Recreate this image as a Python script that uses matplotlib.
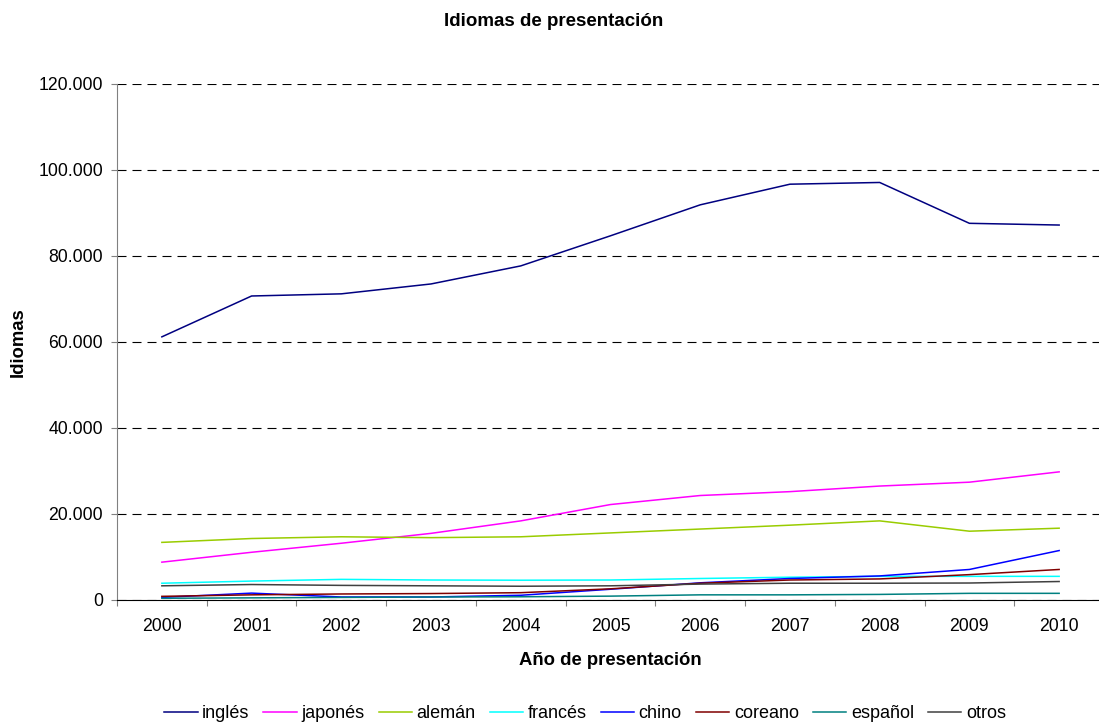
import numpy as np
import matplotlib.pyplot as plt
from matplotlib.ticker import FuncFormatter

plt.rcParams['font.family'] = ['Liberation Sans', 'DejaVu Sans']

# Datos
years = ['2000', '2001', '2002', '2003', '2004', '2005', '2006', '2007', '2008', '2009', '2010']
ingles = [61200, 70700, 71200, 73500, 77700, 84700, 91900, 96700, 97100, 87600, 87200]
japones = [8800, 11100, 13200, 15500, 18400, 22200, 24300, 25200, 26500, 27400, 29800]
aleman = [13400, 14300, 14700, 14500, 14700, 15600, 16500, 17400, 18400, 16000, 16700]
frances = [3900, 4400, 4800, 4650, 4600, 4650, 5000, 5300, 5500, 5500, 5500]
chino = [600, 1600, 700, 700, 1100, 2500, 4000, 5000, 5600, 7100, 11500]
coreano = [850, 1200, 1400, 1500, 1700, 2600, 3900, 4650, 4900, 5900, 7100]
espanol = [400, 500, 600, 700, 750, 900, 1200, 1200, 1300, 1550, 1550]
otros = [3300, 3600, 3400, 3300, 3200, 3300, 3700, 3900, 3900, 3950, 4300]

series = [
    ('inglés', ingles, '#000080'),
    ('japonés', japones, '#FF00FF'),
    ('alemán', aleman, '#99CC00'),
    ('francés', frances, '#00FFFF'),
    ('chino', chino, '#0000FF'),
    ('coreano', coreano, '#800000'),
    ('español', espanol, '#008080'),
    ('otros', otros, '#404040'),
]

fig = plt.figure(figsize=(10.99, 7.24), dpi=100)
# the plot area runs a little past the right edge, like the original
ax = fig.add_axes([117 / 1099, 1 - 600 / 724, (1104 - 117) / 1099, (600 - 84) / 724])

x = np.arange(len(years))
for name, vals, col in series:
    ax.plot(x, vals, color=col, lw=1.1, label=name)

ax.set_xlim(-0.5, len(years) - 0.5)
ax.set_ylim(0, 120000)
ax.set_yticks(np.arange(0, 120001, 20000))
ax.yaxis.set_major_formatter(FuncFormatter(lambda v, p: f'{int(v):,}'.replace(',', '.')))
ax.grid(axis='y', color='black', ls=(0, (8.1, 5.4)), lw=0.8)
ax.set_axisbelow(True)

# ticks between categories, labels at centers
ax.set_xticks(np.arange(-0.5, len(years), 1.0))
ax.set_xticklabels([])
ax.set_xticks(x, minor=True)
ax.set_xticklabels(years, minor=True)
ax.tick_params(axis='x', which='major', length=4.5, direction='out', color='#808080')
ax.tick_params(axis='x', which='minor', length=0, pad=13, labelsize=12.7)
ax.tick_params(axis='y', length=4.5, color='#808080', labelsize=12.7, pad=5.5)

for s in ['top', 'right']:
    ax.spines[s].set_visible(False)
ax.spines['left'].set_color('#808080')
ax.spines['bottom'].set_color('black')

ax.set_xlabel('Año de presentación', fontsize=13.3, fontweight='bold', labelpad=12)
ax.set_ylabel('Idiomas', fontsize=13.3, fontweight='bold')
ax.yaxis.set_label_coords(-0.091, 0.5)
fig.text(554 / 1099, 1 - 22 / 724, 'Idiomas de presentación', ha='center', va='center',
         fontsize=13.5, fontweight='bold')

fig.legend(loc='center', bbox_to_anchor=(585 / 1099, 1 - 714 / 724), ncol=8, frameon=False,
           fontsize=13, handlelength=1.85, handletextpad=0.25, columnspacing=0.78,
           borderpad=0, borderaxespad=0)

fig.savefig('out.png', dpi=100)
